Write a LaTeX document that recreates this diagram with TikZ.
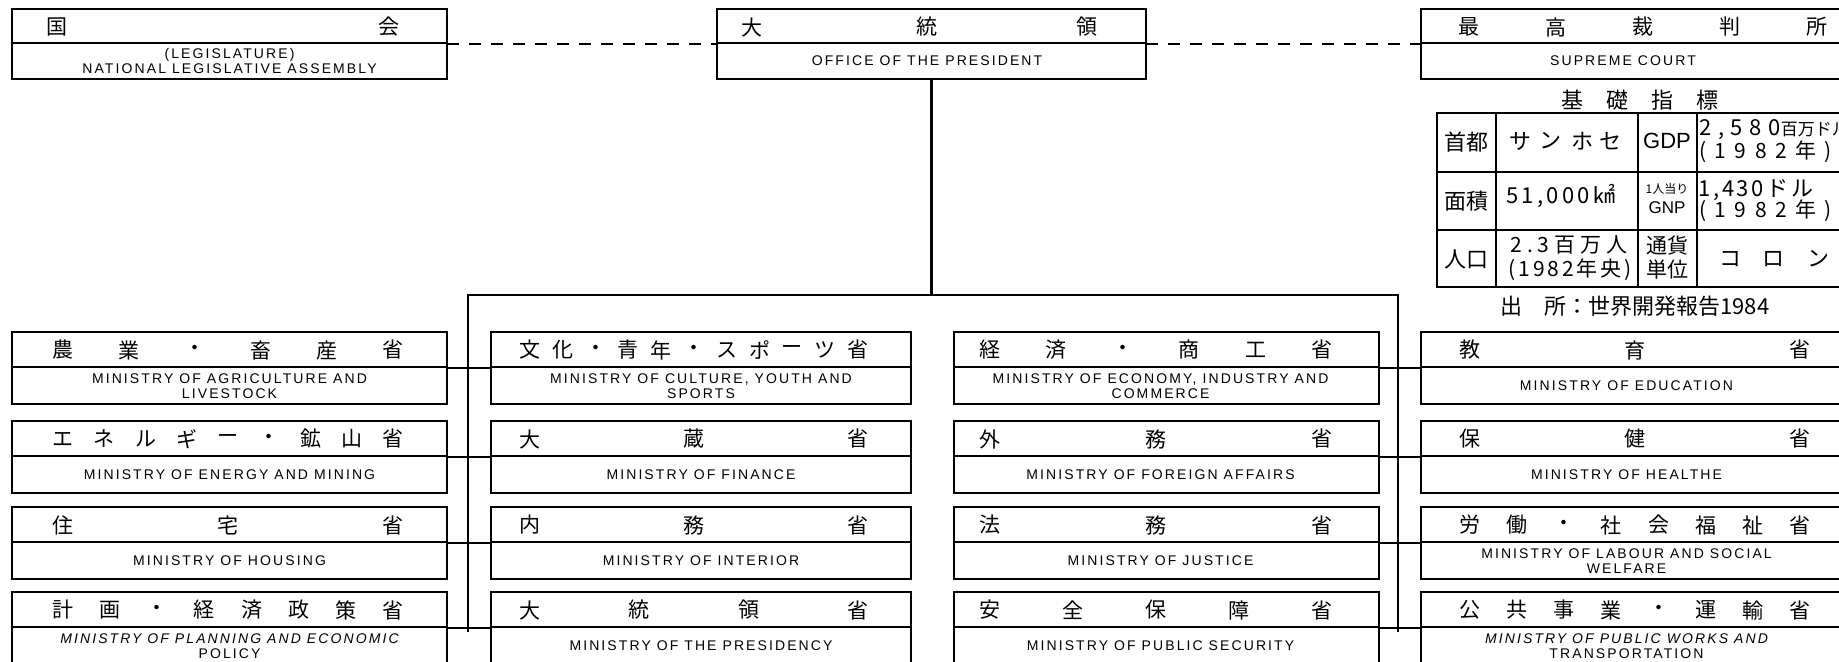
\documentclass[tikz,border=0pt]{standalone}
\usepackage{fontspec}
\setmainfont{Liberation Sans}
\newfontfamily\jp{Noto Sans CJK JP}
\newfontfamily\en[LetterSpace=15]{Liberation Sans}
\tikzset{
  mbox/.style={draw, line width=0.7pt, rectangle, inner sep=0pt, outer sep=0pt, anchor=north west},
  divline/.style={line width=0.6pt},
  jpc/.style={font=\jp\fontsize{10.5}{12}\selectfont, inner sep=0pt},
  tj/.style={font=\jp\fontsize{11}{12}\selectfont, inner sep=0pt},
  tjs/.style={font=\jp\fontsize{10.5}{11}\selectfont, inner sep=0pt},
  ent/.style={font=\en\fontsize{7}{7.5}\selectfont, align=center, inner sep=0pt},
  busline/.style={line width=1.1pt},
  conn/.style={line width=0.8pt},
  dashln/.style={line width=0.6pt, dash pattern=on 6pt off 5pt},
  tabline/.style={line width=0.9pt},
}
\newcommand\mbx[6]{%
  \node[mbox, minimum width={(#4)*0.5pt}, minimum height=36pt] (#1) at (#2,#3) {};
  \draw[divline] (#2,#3+35) -- (#2+#4,#3+35);
  \foreach \jch [count=\jn] in {#5} {\xdef\nch{\jn}}
  \foreach \jch [count=\jn] in {#5} {
    \node[jpc] (#1-j\jn) at ({#2+\jpa+(\jn-1)*(#4-\jpa-\jpb)/(\nch-1)},{#3+18}) {\jch};
  }
  \node[ent] (#1-e) at ({#2+#4/2+\enx},{#3+54}) {#6};
}
\begin{document}
\begin{tikzpicture}[x=0.5pt,y=-0.5pt]
\useasboundingbox (0,0) rectangle (1839,661);
\clip (0,0) rectangle (1839,661);

% top boxes
\node[mbox, minimum width=217.5pt, minimum height=35pt] (legis) at (12,9) {};
\draw[divline] (12,43) -- (447,43);
\node[jpc] (legis-j1) at (57,27) {国};
\node[jpc] (legis-j2) at (389,27) {会};
\node[ent] (legis-e) at (229.5,61) {(LEGISLATURE)\\NATIONAL LEGISLATIVE ASSEMBLY};

\node[mbox, minimum width=214.5pt, minimum height=35pt] (pres) at (717,9) {};
\draw[divline] (717,43) -- (1146,43);
\node[jpc] (pres-j1) at (752,27) {大};
\node[jpc] (pres-j2) at (927,27) {統};
\node[jpc] (pres-j3) at (1087,27) {領};
\node[ent] (pres-e) at (927,61) {OFFICE OF THE PRESIDENT};

\node[mbox, minimum width=217.5pt, minimum height=35pt] (court) at (1421,9) {};
\draw[divline] (1421,43) -- (1856,43);
\foreach \jch/\xx [count=\jn] in {最/1469,高/1556,裁/1643,判/1730,所/1817}
  \node[jpc] (court-j\jn) at (\xx,27) {\jch};
\node[ent] (court-e) at (1623,61) {SUPREME COURT};

\draw[dashln] (legis.east) -- (pres.west);
\draw[dashln] (pres.east) -- (court.west);

% indicator table
\foreach \jch/\xx [count=\jn] in {基/1572,礎/1617,指/1662,標/1707}
  \node[tj] (title-\jn) at (\xx,100) {\jch};
\draw[tabline] (1437,113) rectangle (1870,287);
\draw[tabline] (1437,172) -- (1870,172);
\draw[tabline] (1437,230) -- (1870,230);
\foreach \xx in {1496,1638,1697} \draw[tabline] (\xx,113) -- (\xx,287);

\node[tj] (t-shuto) at (1466,142) {首都};
\node[tj] (t-menseki) at (1466,201) {面積};
\node[tj] (t-jinko) at (1466,259) {人口};
\foreach \jch/\xx [count=\jn] in {サ/1520,ン/1550,ホ/1582,セ/1610}
  \node[tj] (t-sj\jn) at (\xx,141) {\jch};
\node[font=\fontsize{11}{12}\selectfont, inner sep=0pt] (t-gdp) at (1667,141) {GDP};
\node[tj, anchor=west] (t-gdpv) at (1699,130) {{\addfontfeatures{LetterSpace=30}2,580}{\fontsize{8.5}{9}\selectfont 百万ドル}};
\node[tjs, anchor=west] (t-gdpy) at (1699,152) {\addfontfeatures{LetterSpace=40}(1982年)};

\node[tj, anchor=west] (t-area) at (1506,196) {\addfontfeatures{LetterSpace=15}51,000㎢};
\node[font=\jp\fontsize{6}{7}\selectfont, inner sep=0pt] (t-per) at (1667,189) {1人当り};
\node[font=\fontsize{8.5}{9}\selectfont, inner sep=0pt] (t-gnp) at (1667,208) {GNP};
\node[tj, anchor=west] (t-gnpv) at (1698,190) {\addfontfeatures{LetterSpace=12}1,430ドル};
\node[tjs, anchor=west] (t-gnpy) at (1699,211) {\addfontfeatures{LetterSpace=40}(1982年)};

\node[tjs, anchor=west] (t-pop) at (1510,245) {\addfontfeatures{LetterSpace=24}2.3百万人};
\node[tjs, anchor=west] (t-popy) at (1508,270) {\addfontfeatures{LetterSpace=14}(1982年央)};
\node[font=\jp\fontsize{10.5}{11}\selectfont, inner sep=0pt] (t-cur1) at (1667,245) {通貨};
\node[font=\jp\fontsize{10.5}{11}\selectfont, inner sep=0pt] (t-cur2) at (1667,270) {単位};
\foreach \jch/\xx [count=\jn] in {コ/1730,ロ/1773,ン/1818}
  \node[tj] (t-colon\jn) at (\xx,259) {\jch};

\node[tj, anchor=west] (src) at (1500,306) {出\hspace{1em}所：世界開発報告1984};

% column 1
\def\jpa{51}\def\jpb{54}\def\enx{0}
\mbx{agri}{12}{332}{435}{農,業,・,畜,産,省}{MINISTRY OF AGRICULTURE AND\\LIVESTOCK}
\mbx{energy}{12}{421}{435}{エ,ネ,ル,ギ,ー,・,鉱,山,省}{MINISTRY OF ENERGY AND MINING}
\mbx{housing}{12}{507}{435}{住,宅,省}{MINISTRY OF HOUSING}
\mbx{planning}{12}{592}{435}{計,画,・,経,済,政,策,省}{{\itshape MINISTRY OF PLANNING AND ECONOMIC}\\POLICY}

% column 2
\def\jpa{39}\def\jpb{53}\def\enx{0}
\mbx{culture}{491}{332}{420}{文,化,・,青,年,・,ス,ポ,ー,ツ,省}{MINISTRY OF CULTURE, YOUTH AND\\SPORTS}
\mbx{finance}{491}{421}{420}{大,蔵,省}{MINISTRY OF FINANCE}
\mbx{interior}{491}{507}{420}{内,務,省}{MINISTRY OF INTERIOR}
\mbx{presidency}{491}{592}{420}{大,統,領,省}{MINISTRY OF THE PRESIDENCY}

% column 3
\def\jpa{36}\def\jpb{57}\def\enx{-6}
\mbx{economy}{954}{332}{425}{経,済,・,商,工,省}{MINISTRY OF ECONOMY, INDUSTRY AND\\COMMERCE}
\mbx{foreign}{954}{421}{425}{外,務,省}{MINISTRY OF FOREIGN AFFAIRS}
\mbx{justice}{954}{507}{425}{法,務,省}{MINISTRY OF JUSTICE}
\mbx{security}{954}{592}{425}{安,全,保,障,省}{MINISTRY OF PUBLIC SECURITY}

% column 4
\def\jpa{49}\def\jpb{56}\def\enx{-12}
\mbx{education}{1421}{332}{435}{教,育,省}{MINISTRY OF EDUCATION}
\mbx{health}{1421}{421}{435}{保,健,省}{MINISTRY OF HEALTHE}
\mbx{labour}{1421}{507}{435}{労,働,・,社,会,福,祉,省}{MINISTRY OF LABOUR AND SOCIAL\\WELFARE}
\mbx{publicworks}{1421}{592}{435}{公,共,事,業,・,運,輸,省}{{\itshape MINISTRY OF PUBLIC WORKS AND}\\TRANSPORTATION}

% buses
\coordinate (Ltop) at (468,295);
\coordinate (Rtop) at (1398,295);
\coordinate (Lend) at (468,632);
\coordinate (Rend) at (1398,632);
\draw[busline] (pres.south) -- (pres.south |- Ltop);
\draw[busline] (Lend) -- (Ltop) -- (Rtop) -- (Rend);
\foreach \nn in {agri,energy,housing,planning} \draw[conn] (\nn.east) -- (\nn.east -| Ltop);
\foreach \nn in {culture,finance,interior,presidency} \draw[conn] (\nn.west) -- (\nn.west -| Ltop);
\foreach \nn in {economy,foreign,justice,security} \draw[conn] (\nn.east) -- (\nn.east -| Rtop);
\foreach \nn in {education,health,labour,publicworks} \draw[conn] (\nn.west) -- (\nn.west -| Rtop);
\end{tikzpicture}
\end{document}
